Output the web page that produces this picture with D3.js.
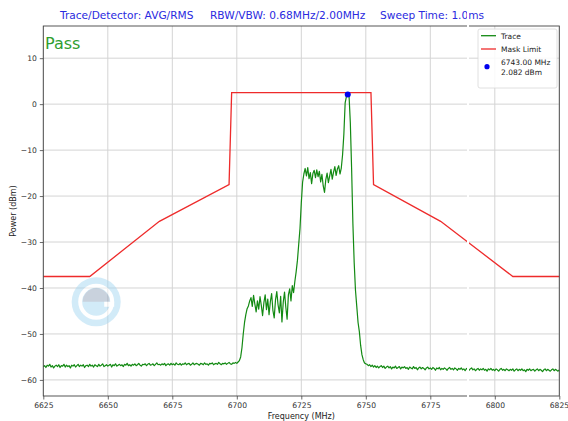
<!DOCTYPE html>
<html><head><meta charset="utf-8">
<script src="https://cdn.jsdelivr.net/npm/d3@7"></script>
<style>html,body{margin:0;padding:0;background:#fff;}svg{display:block;font-family:"DejaVu Sans",sans-serif;}</style>
</head><body>
<svg id="c" width="568" height="421"></svg>
<script>
// ---- data ----
const xTicks = [6625, 6650, 6675, 6700, 6725, 6750, 6775, 6800, 6825];
const yTicks = [10, 0, -10, -20, -30, -40, -50, -60];
const traceStart = 6625, traceStep = 0.5;
const tracePower = [
-57.1,-56.9,-57.3,-56.8,-57.0,-56.6,-57.2,-56.9,-57.4,-57.0,
-56.8,-57.1,-56.7,-57.3,-56.9,-57.0,-56.6,-57.2,-56.8,-57.1,
-56.9,-57.4,-56.8,-57.0,-56.7,-57.2,-56.9,-56.6,-57.1,-56.8,
-57.0,-56.7,-57.3,-56.9,-56.8,-57.1,-56.6,-57.0,-56.8,-57.2,
-56.7,-56.9,-57.1,-56.6,-57.0,-56.8,-56.5,-57.1,-56.9,-56.7,
-57.0,-56.8,-56.6,-57.2,-56.7,-56.9,-56.5,-57.0,-56.8,-56.6,
-56.9,-56.7,-57.1,-56.6,-56.8,-56.4,-56.9,-56.7,-57.0,-56.6,
-56.8,-56.5,-56.9,-56.7,-56.4,-56.8,-57.0,-56.6,-56.7,-56.5,
-56.9,-56.6,-56.4,-56.8,-56.7,-56.5,-56.9,-56.6,-56.3,-56.7,
-56.6,-56.8,-56.5,-56.7,-56.4,-56.9,-56.6,-56.5,-56.8,-56.4,
-56.7,-56.5,-56.8,-56.3,-56.6,-56.7,-56.4,-56.8,-56.5,-56.6,
-56.3,-56.7,-56.5,-56.4,-56.8,-56.6,-56.3,-56.7,-56.5,-56.4,
-56.6,-56.8,-56.4,-56.5,-56.7,-56.3,-56.6,-56.5,-56.8,-56.4,
-56.5,-56.3,-56.7,-56.5,-56.4,-56.6,-56.2,-56.5,-56.7,-56.4,
-56.5,-56.3,-56.6,-56.4,-56.2,-56.5,-56.6,-56.3,-56.4,-56.2,
-56.4,-56.1,-55.8,
-55.0,-53.0,-50.0,-47.5,-45.8,-44.5,-43.9,-42.8,
-42.1,-44.0,-41.6,-43.5,-45.2,-42.8,-44.6,-41.9,-43.8,-46.0,
-43.2,-41.5,-44.7,-42.4,-45.8,-43.0,-41.2,-44.9,-46.5,-42.6,
-40.8,-43.7,-45.4,-41.8,-47.4,-43.1,-40.9,-44.2,-46.8,-41.5,
-40.2,-42.8,-39.5,-41.0,
-38.6,-36.5,-34.0,-30.5,-27.0,-21.5,-17.0,-15.2,
-14.0,-15.6,-13.8,-16.2,-14.9,-17.3,-15.1,-14.4,-16.0,-14.3,
-15.8,-14.6,-16.9,-15.3,-17.8,-19.2,-16.4,-15.0,-17.1,-15.6,
-14.2,-16.3,-14.8,-13.6,-15.5,-14.1,-13.4,-15.2,-13.9,
-11.0,-6.5,0.3,1.7,2.082,1.9,-4.0,-14.0,-26.0,-34.5,-40.5,-44.0,-47.5,-49.5,-52.5,-54.5,-55.6,-56.3,-56.5,
-56.6,-56.9,-56.7,-57.1,-56.8,-57.2,-56.9,-57.3,-57.0,-57.4,
-57.1,-56.9,-57.3,-57.0,-57.5,-57.2,-57.0,-57.4,-57.1,-57.6,
-57.2,-57.4,-57.0,-57.5,-57.3,-57.1,-57.6,-57.2,-57.4,-57.1,
-57.5,-57.3,-57.7,-57.2,-57.4,-57.6,-57.1,-57.5,-57.3,-57.8,
-57.4,-57.2,-57.6,-57.3,-57.5,-57.8,-57.4,-57.2,-57.6,-57.4,
-57.7,-57.3,-57.5,-57.9,-57.4,-57.6,-57.3,-57.8,-57.5,-57.7,
-57.4,-57.6,-57.9,-57.5,-57.3,-57.7,-57.5,-57.8,-57.4,-57.6,
-57.9,-57.5,-57.7,-57.4,-57.8,-57.6,-58.0,-57.5,-57.7,-57.9,
-57.6,-57.4,-57.8,-57.6,-58.0,-57.7,-57.5,-57.9,-57.6,-57.8,
-57.5,-57.9,-57.7,-58.1,-57.6,-57.8,-57.5,-57.9,-57.7,-58.0,
-57.6,-57.8,-58.1,-57.7,-57.5,-57.9,-57.7,-58.0,-57.6,-57.8,
-58.0,-57.7,-57.9,-57.6,-58.1,-57.8,-57.6,-58.0,-57.7,-57.9,
-57.6,-58.0,-57.8,-58.2,-57.7,-57.9,-57.6,-58.0,-57.8,-57.7,
-58.1,-57.8,-57.6,-58.0,-57.7,-57.9,-58.2,-57.8,-57.6,-58.0,
-57.7,-57.9,-58.1,-57.8,-57.6,-58.0,-57.7,-57.9,-58.1,-57.8
];
const maskFreq  = [6625, 6643, 6670, 6697, 6698, 6752, 6753, 6779, 6807, 6825];
const maskPower = [-37.5, -37.5, -25.5, -17.5, 2.5, 2.5, -17.5, -25.5, -37.5, -37.5];
const peakFreq = 6743.00, peakPower = 2.082;
const titleParts = ["Trace/Detector: AVG/RMS", "RBW/VBW: 0.68MHz/2.00MHz", "Sweep Time: 1.0ms"];

// ---- layout ----
const svg = d3.select("#c");
const L = 43.3, R = 559.3, T = 26, B = 396;
const x = d3.scaleLinear().domain([6625, 6825]).range([L, R]);
const y = d3.scaleLinear().domain([-63.5, 17]).range([B, T]);

svg.append("rect").attr("width", 568).attr("height", 421).attr("fill", "#fff");

// grid
const grid = svg.append("g").attr("stroke", "#d4d4d4").attr("stroke-width", 1);
xTicks.forEach(t => grid.append("line").attr("x1", x(t)).attr("x2", x(t)).attr("y1", T).attr("y2", B));
yTicks.forEach(t => grid.append("line").attr("x1", L).attr("x2", R).attr("y1", y(t)).attr("y2", y(t)));

// watermark
const wm = svg.append("g").attr("transform", `translate(${x(6645.5)},${y(-43)})`).attr("opacity", 0.5);
wm.append("circle").attr("r", 24.5).attr("fill", "#a6d8f2");
wm.append("circle").attr("r", 16).attr("fill", "none").attr("stroke", "#ffffff").attr("stroke-width", 4);
wm.append("path").attr("d", d3.arc()({innerRadius: 0, outerRadius: 13.5, startAngle: -Math.PI/2, endAngle: Math.PI/2})).attr("fill", "#95a6bd");
wm.append("rect").attr("x", 8).attr("y", 0).attr("width", 10).attr("height", 5).attr("fill", "#fff");

// lines
const trace = tracePower.map((p, i) => [traceStart + i * traceStep, p]);
const line = d3.line().x(d => x(d[0])).y(d => y(d[1]));
svg.append("path").datum(maskFreq.map((f, i) => [f, maskPower[i]]))
  .attr("d", line).attr("fill", "none").attr("stroke", "#ee2b2b").attr("stroke-width", 1.3);
svg.append("path").datum(trace)
  .attr("d", line).attr("fill", "none").attr("stroke", "#138a13").attr("stroke-width", 1.2).attr("stroke-linejoin", "round");
svg.append("circle").attr("cx", x(peakFreq)).attr("cy", y(peakPower)).attr("r", 3).attr("fill", "#0000ee");

// axes
const xAxis = d3.axisBottom(x).tickValues(xTicks).tickSize(3.5).tickPadding(3).tickFormat(d3.format("d"));
const yAxis = d3.axisLeft(y).tickValues(yTicks).tickSize(3.5).tickPadding(3).tickFormat(d => d < 0 ? "\u2212" + Math.abs(d) : d);
const gx = svg.append("g").attr("transform", `translate(0,${B})`).call(xAxis);
const gy = svg.append("g").attr("transform", `translate(${L},0)`).call(yAxis);
[gx, gy].forEach(g => {
  g.select(".domain").remove();
  g.selectAll("line").attr("stroke", "#444").attr("stroke-width", 0.8);
  g.selectAll("text").attr("fill", "#333").style("font-size", "7.6px").style("font-family", "DejaVu Sans");
});
gx.selectAll(".tick:last-of-type text").attr("text-anchor", "end").attr("dx", "9.3");
svg.append("rect").attr("x", L).attr("y", T).attr("width", R - L).attr("height", B - T)
  .attr("fill", "none").attr("stroke", "#444").attr("stroke-width", 0.9);

svg.append("text").attr("x", (L + R) / 2).attr("y", 419).attr("text-anchor", "middle")
  .style("font-size", "8px").attr("fill", "#222").text("Frequency (MHz)");
svg.append("text").attr("transform", `translate(16,${(T + B) / 2}) rotate(-90)`).attr("text-anchor", "middle")
  .style("font-size", "8px").attr("fill", "#222").text("Power (dBm)");

// Pass
svg.append("text").attr("x", 45).attr("y", 49).style("font-size", "16px").attr("fill", "#2f9e2f").text("Pass");

// title
const tx = [60, 210, 380];
titleParts.forEach((s, i) => svg.append("text").attr("x", tx[i]).attr("y", 19)
  .style("font-size", "10.6px").attr("fill", "#2a2ae0").text(s));

// legend
const lg = svg.append("g");
lg.append("rect").attr("x", 478).attr("y", 29).attr("width", 79).attr("height", 59).attr("rx", 2)
  .attr("fill", "#fff").attr("fill-opacity", 0.85).attr("stroke", "#d8d8d8").attr("stroke-width", 0.8);
lg.append("line").attr("x1", 481).attr("x2", 496).attr("y1", 35.7).attr("y2", 35.7).attr("stroke", "#138a13").attr("stroke-width", 1.3);
lg.append("line").attr("x1", 481).attr("x2", 496).attr("y1", 49).attr("y2", 49).attr("stroke", "#ee2b2b").attr("stroke-width", 1.3);
lg.append("circle").attr("cx", 487).attr("cy", 66.7).attr("r", 2.6).attr("fill", "#0000ee");
const lt = [["Trace", 38.5], ["Mask Limit", 51.8], [peakFreq.toFixed(2) + " MHz", 64.5], [peakPower.toFixed(3) + " dBm", 75]];
lt.forEach(d => lg.append("text").attr("x", 501).attr("y", d[1]).style("font-size", "7.5px").attr("fill", "#222").text(d[0]));

// white scan stripe present in the reference image
svg.append("rect").attr("x", 467).attr("y", 0).attr("width", 2).attr("height", 421).attr("fill", "#fff");
</script>
</body></html>
